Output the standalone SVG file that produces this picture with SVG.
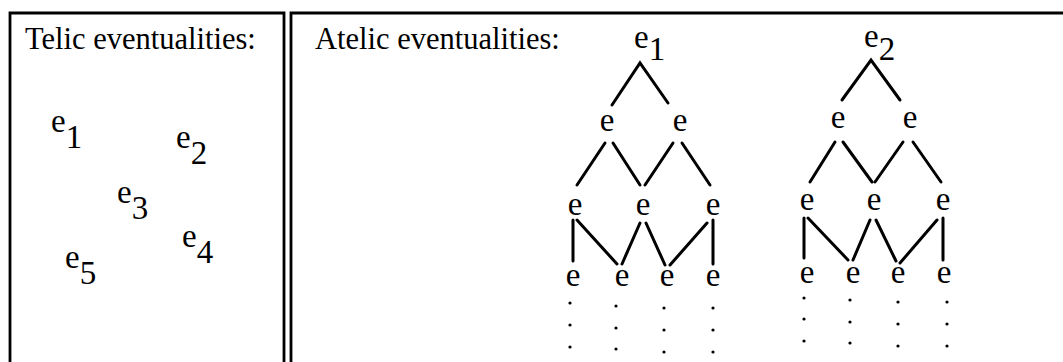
<svg xmlns="http://www.w3.org/2000/svg" width="1063" height="362" viewBox="0 0 1063 362">
<style>
text{font-family:"Liberation Serif","Times New Roman",serif;font-size:33px;fill:#000}
.title{font-size:30.5px}
.m{text-anchor:middle}
.frame{fill:none;stroke:#000;stroke-width:2.8}
.edge{stroke:#000;stroke-width:3;stroke-linecap:round;fill:none}
.dot{fill:#000}
</style>
<rect width="1063" height="362" fill="#fff"/>
<g id="frames">
<path class="frame" d="M10,362 V13 H284 V362"/>
<path class="frame" d="M291,362 V13 H1063"/>
</g>
<g id="titles">
<text class="title" x="25" y="49">Telic eventualities:</text>
<text class="title" x="315" y="49">Atelic eventualities:</text>
</g>
<g id="telic">
<g id="t-e1"><text x="51" y="132">e<tspan dy="16">1</tspan></text></g>
<g id="t-e2"><text x="176" y="148">e<tspan dy="16">2</tspan></text></g>
<g id="t-e3"><text x="117" y="203">e<tspan dy="16">3</tspan></text></g>
<g id="t-e4"><text x="182" y="247">e<tspan dy="16">4</tspan></text></g>
<g id="t-e5"><text x="65" y="268">e<tspan dy="16">5</tspan></text></g>
</g>
<g id="connectors">
<path class="edge" d="M612,105 L640,63 L668,103"/>
<path class="edge" d="M605,143 L577,185 M613,143 L640,185 M673,143 L645,185 M682,143 L710,185"/>
<path class="edge" d="M573,220 V261 M577,220 L617,264 M640,223 L622,264 M646,223 L665,265 M707,223 L670,265 M713,220 V264"/>
<path class="edge" d="M842,100 L871,60 L900,100"/>
<path class="edge" d="M835,142 L810,182 M843,142 L872,182 M903,142 L875,182 M913,142 L941,182"/>
<path class="edge" d="M804,218 V258 M808,218 L848,260 M870,220 L853,260 M876,220 L896,261 M937,220 L900,263 M943,218 V260"/>
</g>
<g id="tree1">
<g id="a1-root"><text x="634" y="48">e<tspan dy="12">1</tspan></text></g>
<g id="a1-l2"><text class="m" x="607" y="131">e</text><text class="m" x="680" y="131">e</text></g>
<g id="a1-l3"><text class="m" x="575" y="215">e</text><text class="m" x="643" y="215">e</text><text class="m" x="713" y="215">e</text></g>
<g id="a1-l4"><text class="m" x="573" y="286">e</text><text class="m" x="622" y="286">e</text><text class="m" x="667" y="286">e</text><text class="m" x="713" y="286">e</text></g>
<g id="a1-dots">
<circle class="dot" cx="570" cy="303" r="1.6"/><circle class="dot" cx="570" cy="325" r="1.6"/><circle class="dot" cx="570" cy="347" r="1.6"/>
<circle class="dot" cx="616" cy="306" r="1.6"/><circle class="dot" cx="616" cy="328" r="1.6"/><circle class="dot" cx="616" cy="349" r="1.6"/>
<circle class="dot" cx="664" cy="308" r="1.6"/><circle class="dot" cx="664" cy="330" r="1.6"/><circle class="dot" cx="664" cy="352" r="1.6"/>
<circle class="dot" cx="713" cy="308" r="1.6"/><circle class="dot" cx="713" cy="330" r="1.6"/><circle class="dot" cx="713" cy="352" r="1.6"/>
</g>
</g>
<g id="tree2">
<g id="a2-root"><text x="864" y="47">e<tspan dy="13">2</tspan></text></g>
<g id="a2-l2"><text class="m" x="838" y="128">e</text><text class="m" x="910" y="128">e</text></g>
<g id="a2-l3"><text class="m" x="807" y="210">e</text><text class="m" x="874" y="210">e</text><text class="m" x="943" y="210">e</text></g>
<g id="a2-l4"><text class="m" x="807" y="283">e</text><text class="m" x="853" y="283">e</text><text class="m" x="898" y="283">e</text><text class="m" x="944" y="283">e</text></g>
<g id="a2-dots">
<circle class="dot" cx="804" cy="298" r="1.6"/><circle class="dot" cx="804" cy="319" r="1.6"/><circle class="dot" cx="804" cy="341" r="1.6"/>
<circle class="dot" cx="850" cy="300" r="1.6"/><circle class="dot" cx="850" cy="322" r="1.6"/><circle class="dot" cx="850" cy="343" r="1.6"/>
<circle class="dot" cx="898" cy="302" r="1.6"/><circle class="dot" cx="898" cy="324" r="1.6"/><circle class="dot" cx="898" cy="346" r="1.6"/>
<circle class="dot" cx="947" cy="302" r="1.6"/><circle class="dot" cx="947" cy="324" r="1.6"/><circle class="dot" cx="947" cy="346" r="1.6"/>
</g>
</g>
</svg>
